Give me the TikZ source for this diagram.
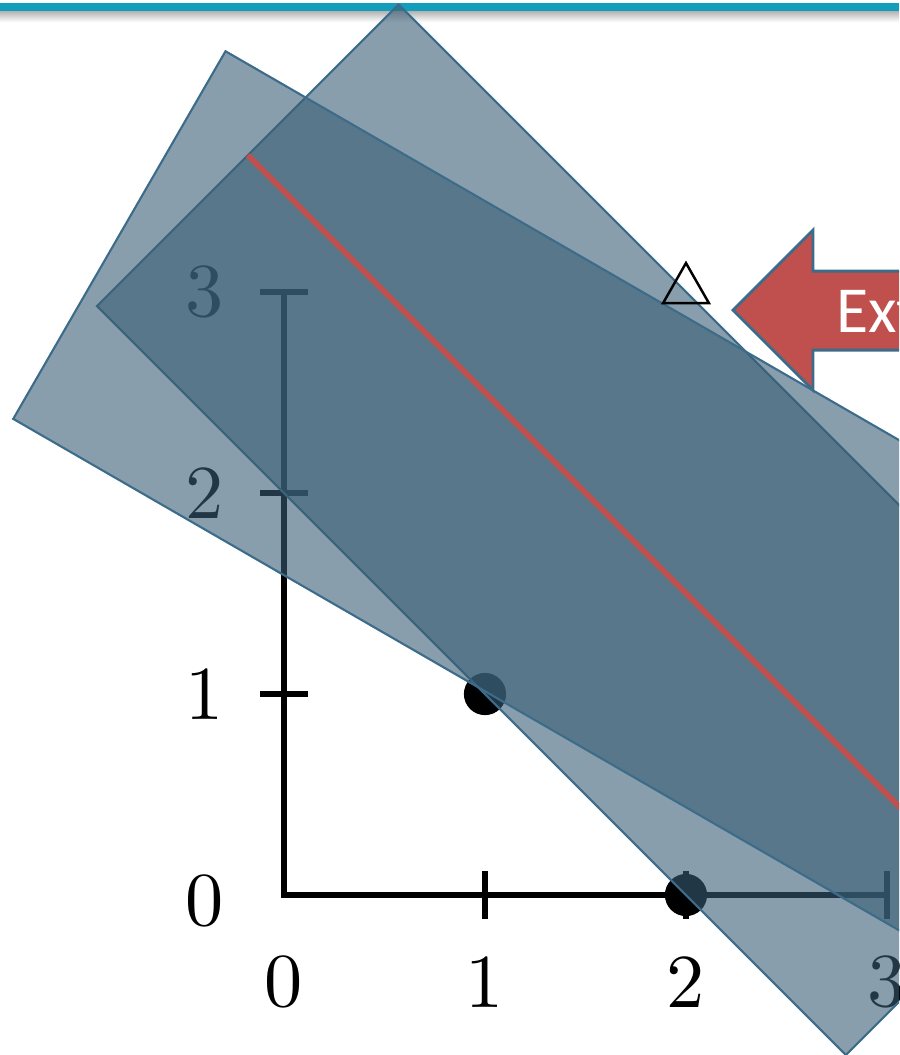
\documentclass[tikz,border=0pt]{standalone}
\usepackage{fontspec}
\newfontfamily\slidefont{Carlito}
\usetikzlibrary{arrows.meta}
\definecolor{slideteal}{RGB}{20,158,187}
\definecolor{slabfill}{RGB}{57,93,116}
\definecolor{slabedge}{RGB}{60,108,138}
\definecolor{officered}{RGB}{192,80,77}

\tikzset{
    axis/.style={line width=0.75pt,black},
    ticklabel/.style={font=\fontsize{10.8}{12}\selectfont,inner sep=0pt},
    slab/.style={fill=slabfill,fill opacity=0.6,draw=slabedge,line width=0.3pt},
    marker/.style={draw=black,line width=0.35pt},
    callout/.style={fill=officered,draw=slabedge,line width=0.4pt}
}

\begin{document}
\begin{tikzpicture}[>=Stealth]
    \useasboundingbox (-1.413,-0.796) rectangle (3.060,4.453);
    \clip (-1.413,-0.796) rectangle (3.060,4.453);

    % title bar of the slide
    \shade[top color=black!30,bottom color=white] (-1.413,4.343) rectangle (3.060,4.398);
    \fill[slideteal] (-1.413,4.398) rectangle (3.060,4.438);

    % axes and ticks
    \coordinate (origin) at (0,0);
    \coordinate (ytop) at (0,3);
    \coordinate (xend) at (3,0);
    \draw[axis] (ytop) -- (origin) -- (xend);
    \draw[axis] (-0.12,1) -- (0.12,1);
    \draw[axis] (-0.12,2) -- (0.12,2);
    \draw[axis] (-0.12,3) -- (0.12,3);
    \draw[axis] (1,-0.12) -- (1,0.12);
    \draw[axis] (2,-0.12) -- (2,0.12);
    \draw[axis] (3,-0.12) -- (3,0.12);

    \node[ticklabel] (ylab0) at (-0.393,-0.03) {0};
    \node[ticklabel] (ylab1) at (-0.393,1) {1};
    \node[ticklabel] (ylab2) at (-0.393,2) {2};
    \node[ticklabel] (ylab3) at (-0.393,3) {3};
    \node[ticklabel] (xlab0) at (0,-0.433) {0};
    \node[ticklabel] (xlab1) at (1,-0.433) {1};
    \node[ticklabel] (xlab2) at (2,-0.433) {2};
    \node[ticklabel] (xlab3) at (3,-0.433) {3};

    % data points
    \coordinate (pa) at (1,1);
    \coordinate (pb) at (2,0);
    \fill (pa) circle (0.105);
    \fill (pb) circle (0.105);

    % the two slabs
    \draw[slab,rotate=45] (1.414,-2.54) rectangle (3.536,2.73);
    \draw[slab,rotate=-30] (-2.351,1.378) rectangle (4,3.49);

    % centre line of the upright slab
    \draw[officered,line width=0.8pt,rotate=45] (2.475,2.73) -- (2.475,-2.54);

    % vertex marker
    \coordinate (vtx) at (2,3);
    \draw[marker] (2,3.144) -- (1.886,2.945) -- (2.114,2.945) -- cycle;

    % callout arrow
    \draw[callout] (2.234,2.910) -- (2.632,3.308) -- (2.632,3.104) -- (3.4,3.104)
        -- (3.4,2.711) -- (2.632,2.711) -- (2.632,2.512) -- cycle;
    \node[anchor=base west,inner sep=0pt,text=white,font=\slidefont\fontsize{9.3}{10}\selectfont]
        (extlabel) at (2.741,2.801) {Ext};
\end{tikzpicture}
\end{document}
